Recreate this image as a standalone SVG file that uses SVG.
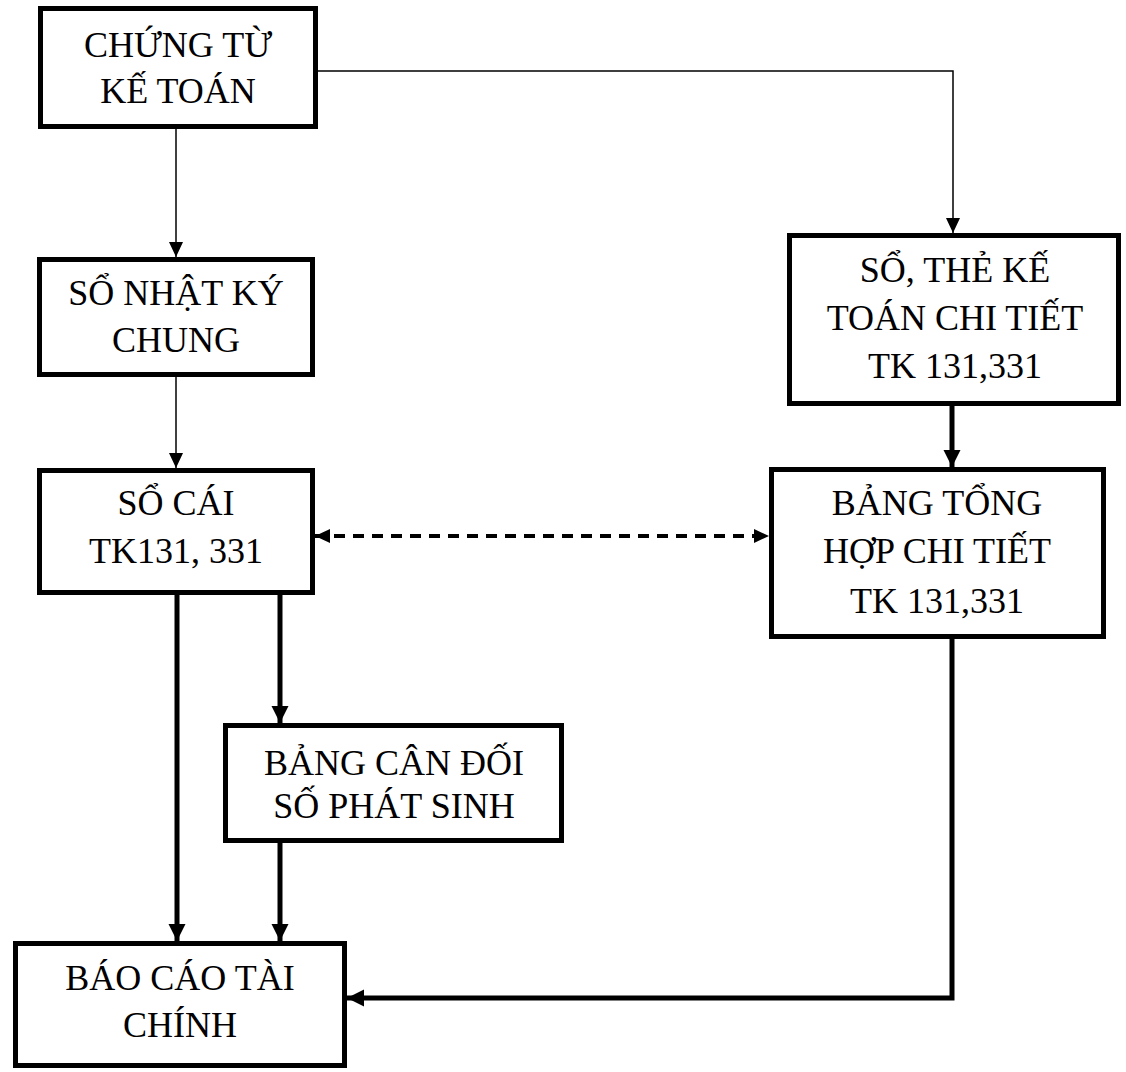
<svg xmlns="http://www.w3.org/2000/svg" width="1126" height="1072" viewBox="0 0 1126 1072">
  <style>
    .box { fill: #ffffff; stroke: #000000; stroke-width: 5; }
    .lab { font-family: 'Liberation Serif', serif; font-size: 36px; }
    .thin { fill: none; stroke: #000000; stroke-width: 1.5; }
    .thick { fill: none; stroke: #000000; stroke-width: 5; }
    .dashed { fill: none; stroke: #000000; stroke-width: 4; stroke-dasharray: 11 8; }
  </style>
  <defs>
    <!-- arrowheads sized in user units so thin and thick lines share similar heads -->
    <marker id="arrowThin" markerUnits="userSpaceOnUse" markerWidth="16" markerHeight="16" viewBox="0 0 16 16" refX="15" refY="8" orient="auto">
      <path d="M0,1 L15,8 L0,15 Z" fill="#000000"/>
    </marker>
    <marker id="arrowThick" markerUnits="userSpaceOnUse" markerWidth="18" markerHeight="18" viewBox="0 0 18 18" refX="17" refY="9" orient="auto">
      <path d="M0,0.5 L17,9 L0,17.5 Z" fill="#000000"/>
    </marker>
    <marker id="arrowDashEnd" markerUnits="userSpaceOnUse" markerWidth="16" markerHeight="16" viewBox="0 0 16 16" refX="15" refY="8" orient="auto">
      <path d="M0,1 L15,8 L0,15 Z" fill="#000000"/>
    </marker>
    <marker id="arrowDashStart" markerUnits="userSpaceOnUse" markerWidth="16" markerHeight="16" viewBox="0 0 16 16" refX="0" refY="8" orient="auto">
      <path d="M15,1 L0,8 L15,15 Z" fill="#000000"/>
    </marker>
  </defs>

  <g id="connectors">
    <path class="thin" d="M176,129 L176,257" marker-end="url(#arrowThin)"/>
    <path class="thin" d="M318,71 L953,71 L953,233" marker-end="url(#arrowThin)"/>
    <path class="thin" d="M176,377 L176,468" marker-end="url(#arrowThin)"/>
    <path class="thick" d="M952,406 L952,467" marker-end="url(#arrowThick)"/>
    <path class="dashed" d="M315,536 L769,536" marker-start="url(#arrowDashStart)" marker-end="url(#arrowDashEnd)"/>
    <path class="thick" d="M177,595 L177,941" marker-end="url(#arrowThick)"/>
    <path class="thick" d="M280,595 L280,723" marker-end="url(#arrowThick)"/>
    <path class="thick" d="M280,843 L280,941" marker-end="url(#arrowThick)"/>
    <path class="thick" d="M952,639 L952,998 L347,998" marker-end="url(#arrowThick)"/>
  </g>

  <g id="chung-tu-ke-toan">
    <rect class="box" x="40.5" y="8.5" width="275" height="118"/>
    <text class="lab" x="178" y="57" text-anchor="middle">CHỨNG TỪ</text>
    <text class="lab" x="178" y="103" text-anchor="middle">KẾ TOÁN</text>
  </g>

  <g id="so-nhat-ky-chung">
    <rect class="box" x="39.5" y="259.5" width="273" height="115"/>
    <text class="lab" x="176" y="305" text-anchor="middle">SỔ NHẬT KÝ</text>
    <text class="lab" x="176" y="352" text-anchor="middle">CHUNG</text>
  </g>

  <g id="so-cai">
    <rect class="box" x="39.5" y="470.5" width="273" height="122"/>
    <text class="lab" x="176" y="515" text-anchor="middle">SỔ CÁI</text>
    <text class="lab" x="176" y="563" text-anchor="middle">TK131, 331</text>
  </g>

  <g id="bang-can-doi">
    <rect class="box" x="225.5" y="725.5" width="336" height="115"/>
    <text class="lab" x="394" y="775" text-anchor="middle">BẢNG CÂN ĐỐI</text>
    <text class="lab" x="394" y="818" text-anchor="middle">SỐ PHÁT SINH</text>
  </g>

  <g id="bao-cao-tai-chinh">
    <rect class="box" x="15.5" y="943.5" width="329" height="122"/>
    <text class="lab" x="180" y="990" text-anchor="middle">BÁO CÁO TÀI</text>
    <text class="lab" x="180" y="1037" text-anchor="middle">CHÍNH</text>
  </g>

  <g id="so-the-chi-tiet">
    <rect class="box" x="789.5" y="235.5" width="329" height="168"/>
    <text class="lab" x="955" y="282" text-anchor="middle">SỔ, THẺ KẾ</text>
    <text class="lab" x="955" y="330" text-anchor="middle">TOÁN CHI TIẾT</text>
    <text class="lab" x="955" y="378" text-anchor="middle">TK 131,331</text>
  </g>

  <g id="bang-tong-hop">
    <rect class="box" x="771.5" y="469.5" width="332" height="167"/>
    <text class="lab" x="937" y="515" text-anchor="middle">BẢNG TỔNG</text>
    <text class="lab" x="937" y="563" text-anchor="middle">HỢP CHI TIẾT</text>
    <text class="lab" x="937" y="613" text-anchor="middle">TK 131,331</text>
  </g>
</svg>
